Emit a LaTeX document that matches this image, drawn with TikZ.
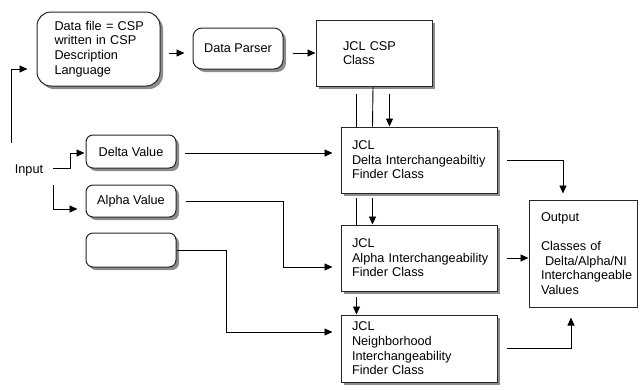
\documentclass[tikz,border=0pt]{standalone}
\usepackage{fontspec}
\setmainfont{Liberation Sans}
\usetikzlibrary{arrows.meta,shadows,calc}
\begin{document}
\begin{tikzpicture}[x=1pt,y=-1pt,
  every node/.style={font=\fontsize{12.7}{14.6}\selectfont},
  shad/.style={drop shadow={shadow xshift=3pt,shadow yshift=-3pt,fill=black!45,opacity=1}},
  rbox/.style={draw=black!85,line width=1pt,fill=white,shad,rounded corners=#1,align=center,inner sep=0pt},
  sbox/.style={draw=black!85,line width=1pt,fill=white,shad,inner sep=0pt},
  arr/.style={line width=0.9pt,-{Triangle[length=8pt,width=7pt]}},
  ln/.style={line width=0.9pt}]
\useasboundingbox (0,0) rectangle (644,389);
% boxes
\node[rbox=14pt,minimum width=123pt,minimum height=74pt,text width=88pt,inner xsep=17.5pt,align=left] (datafile) at (98.5,49)
  {\mbox{Data file = CSP}\\\mbox{written in CSP}\\Description\\Language};
\node[rbox=9pt,minimum width=90pt,minimum height=41pt] (parser) at (238,48.5) {Data Parser};
\node[sbox,minimum width=116pt,minimum height=66pt,text width=62pt,inner xsep=27pt,align=left] (csp) at (374,53) {\mbox{JCL CSP}\\Class};
\node[sbox,minimum width=156pt,minimum height=66pt,text width=134pt,inner xsep=11pt,align=left] (delta) at (419,160)
  {JCL\\\mbox{Delta Interchangeabiltiy}\\Finder Class};
\node[sbox,minimum width=156pt,minimum height=66pt,text width=134pt,inner xsep=11pt,align=left] (alpha) at (419,258)
  {JCL\\\mbox{Alpha Interchangeability}\\Finder Class};
\node[sbox,minimum width=156pt,minimum height=67pt,text width=134pt,inner xsep=11pt,align=left] (ni) at (419,348.5)
  {JCL\\Neighborhood\\\mbox{Interchangeability}\\Finder Class};
\node[draw=black!85,line width=1pt,fill=white,minimum width=108pt,minimum height=107pt,text width=84pt,inner xsep=12pt,inner ysep=0pt,align=left] (out) at (583,253.5)
  {Output\\[14.6pt]Classes of\\\hspace*{4pt}\mbox{Delta/Alpha/NI}\\\mbox{Interchangeable}\\Values};
\node[rbox=7pt,minimum width=90pt,minimum height=33pt] (dval) at (131,151.5) {Delta Value};
\node[rbox=7pt,minimum width=90pt,minimum height=32pt] (aval) at (131,201) {Alpha Value};
\node[rbox=7pt,minimum width=90pt,minimum height=34pt] (eval) at (131,250) {};
\node[inner sep=0pt] (input) at (29,170) {Input};
% connectors
\draw[arr] ($(datafile.east)+(8,4)$) -- ($(parser.west)+(-8,4.5)$);
\draw[arr] ($(parser.east)+(9,4.5)$) -- (csp.west);
\draw[ln] ($(delta.north west)+(16,-33)$) -- ($(delta.north west)+(16,0)$);
\draw[ln] ($(csp.south)+(-1,0)$) -- ($(delta.north west)+(32,0)$);
\draw[arr] ($(delta.north west)+(49,-33)$) -- ($(delta.north west)+(49,0)$);
\draw[ln] ($(delta.south west)+(16,4)$) -- ($(alpha.north west)+(16,0)$);
\draw[arr] ($(delta.south west)+(32,4)$) -- ($(alpha.north west)+(32,0)$);
\draw[arr] ($(alpha.south west)+(16,5)$) -- ($(ni.north west)+(16,0)$);
\draw[arr] ($(delta.east)+(9,0)$) -| ($(out.north)+(-20,-6)$);
\draw[arr] ($(alpha.east)+(9,0)$) -- (alpha.east -| out.west);
\draw[arr] ($(ni.east)+(9,0)$) -| ($(out.south)+(-12,10)$);
\draw[arr] ($(dval.east)+(8,1.5)$) -- ($(delta.west)+(-8,-7)$);
\draw[arr] ($(aval.east)+(9,0)$) -- ++(98,0) |- ($(alpha.west)+(-8,9)$);
\draw[arr] (eval.east) -- ++(50,0) |- ($(ni.west)+(-8,-16.5)$);
\draw[arr] ($(input.east)+(10,-2)$) -- ++(17,0) |- ($(dval.west)+(-1,1.5)$);
\draw[arr] ($(input.east)+(10,15)$) |- ($(aval.west)+(-8,8)$);
\draw[arr] ($(input.west)+(-3,-27)$) |- ($(datafile.west)+(-9,20)$);
\end{tikzpicture}
\end{document}
